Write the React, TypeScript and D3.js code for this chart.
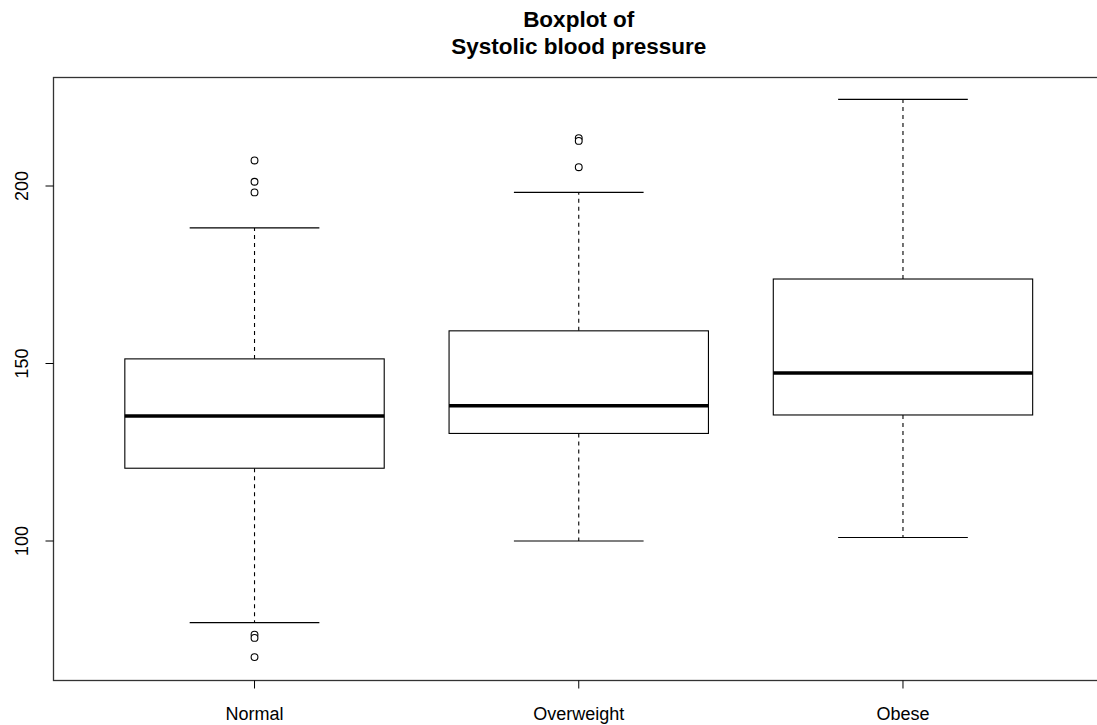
import React from "react";
import * as d3 from "d3";

// Group labels and five-number summaries
const categories = ["Normal", "Overweight", "Obese"];
const whiskerLow = [77, 100, 101];
const q1 = [120.5, 130.3, 135.5];
const median = [135.2, 138.1, 147.3];
const q3 = [151.3, 159.2, 173.8];
const whiskerHigh = [188.2, 198.2, 224.4];
const outliers = [
  [207.2, 201.2, 198.2, 73.6, 72.7, 67.3],
  [213.5, 212.7, 205.3],
  [],
];
const yTicks = [100, 150, 200];

const titleLines = ["Boxplot of", "Systolic blood pressure"];

const App = () => {
  const width = 1097;
  const height = 725;
  // plot region (right edge falls just outside the picture, as in the original)
  const left = 53.5;
  const right = 1104;
  const top = 77.5;
  const bottom = 680.5;

  const x = d3.scaleLinear().domain([0.38, 3.62]).range([left, right]);
  const y = d3.scaleLinear().domain([100, 200]).range([541, 186]);

  const boxwex = 0.8;
  const staple = 0.4;
  const font = "'Liberation Sans', Arial, sans-serif";
  const midX = (left + right) / 2;

  return (
    <svg
      width={width}
      height={height}
      style={{ position: "absolute", left: 0, top: 0, background: "#fff" }}
    >
      {/* title */}
      {titleLines.map((t, i) => (
        <text
          key={t}
          x={midX}
          y={27 + i * 27}
          textAnchor="middle"
          fontFamily={font}
          fontWeight="bold"
          fontSize={22.5}
        >
          {t}
        </text>
      ))}

      {categories.map((c, i) => {
        const cx = x(i + 1);
        const bx0 = x(i + 1 - boxwex / 2);
        const bx1 = x(i + 1 + boxwex / 2);
        const sx0 = x(i + 1 - staple / 2);
        const sx1 = x(i + 1 + staple / 2);
        return (
          <g key={c} stroke="#000" fill="none" strokeWidth={1.1}>
            {/* whiskers */}
            <line x1={cx} x2={cx} y1={y(q3[i])} y2={y(whiskerHigh[i])} strokeDasharray="4,4" />
            <line x1={cx} x2={cx} y1={y(q1[i])} y2={y(whiskerLow[i])} strokeDasharray="4,4" />
            <line x1={sx0} x2={sx1} y1={y(whiskerHigh[i])} y2={y(whiskerHigh[i])} />
            <line x1={sx0} x2={sx1} y1={y(whiskerLow[i])} y2={y(whiskerLow[i])} />
            {/* box */}
            <rect x={bx0} y={y(q3[i])} width={bx1 - bx0} height={y(q1[i]) - y(q3[i])} fill="#fff" />
            <line x1={bx0} x2={bx1} y1={y(median[i])} y2={y(median[i])} strokeWidth={3.5} />
            {/* outliers */}
            {outliers[i].map((v, k) => (
              <circle key={k} cx={cx} cy={y(v)} r={3.4} fill="#fff" />
            ))}
          </g>
        );
      })}

      {/* frame */}
      <rect x={left} y={top} width={right - left} height={bottom - top} fill="none" stroke="#333" strokeWidth={1.3} />

      {/* y axis */}
      {yTicks.map((t) => (
        <g key={t}>
          <line x1={left - 8} x2={left} y1={y(t)} y2={y(t)} stroke="#000" />
          <text
            transform={`translate(28,${y(t)}) rotate(-90)`}
            textAnchor="middle"
            fontFamily={font}
            fontSize={18}
            fill="#000"
          >
            {t}
          </text>
        </g>
      ))}

      {/* x axis */}
      {categories.map((c, i) => (
        <g key={c}>
          <line x1={x(i + 1)} x2={x(i + 1)} y1={bottom} y2={bottom + 8} stroke="#000" />
          <text
            x={x(i + 1)}
            y={720}
            textAnchor="middle"
            fontFamily={font}
            fontSize={18}
            fill="#000"
          >
            {c}
          </text>
        </g>
      ))}
    </svg>
  );
};

export default App;
